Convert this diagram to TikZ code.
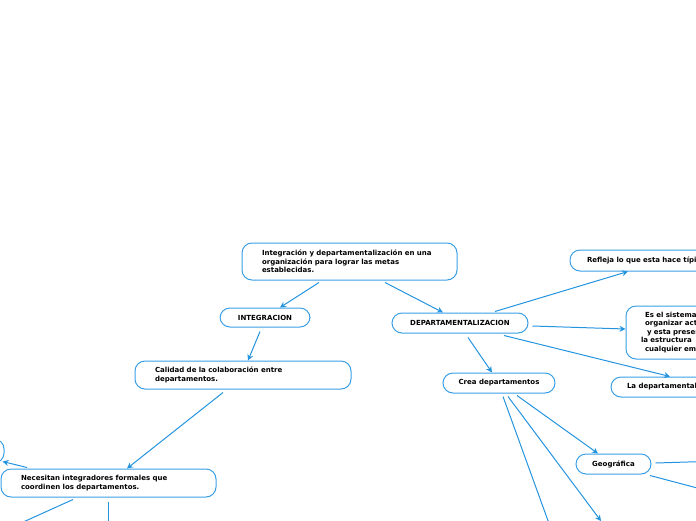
\documentclass[tikz,border=0pt]{standalone}
\usepackage{fontspec}
\usepackage{tikz}
\usetikzlibrary{arrows.meta,positioning,calc}
\usepackage{xcolor}
\newfontfamily\mapfont{DejaVu Sans}
\definecolor{Boxcolor}{HTML}{3A9FE6}
\definecolor{Linkcolor}{HTML}{2494DE}

\begin{document}
\begin{tikzpicture}[
  x=1pt, y=-1pt,
  topic/.style={draw=Boxcolor, fill=white, line width=1pt, rounded corners=10pt, font=\mapfont\bfseries\fontsize{7}{8.5}\selectfont, inner ysep=0pt},
  textbox/.style={topic, align=left, inner xsep=20pt},
  centerbox/.style={topic, inner xsep=0pt, minimum height=20pt},
  arr/.style={-{Stealth[length=6pt,width=6pt]}, draw=Linkcolor, line width=1pt},
  link/.style={draw=Linkcolor, line width=1pt},
]
  \useasboundingbox (0,0) rectangle (696,520);
  \clip (0,0) rectangle (696,520);

  % Nodes
  \node[textbox, text width=175pt, minimum height=37pt] (root) at (349.5,261.5) {Integración y departamentalización en una\\organización para lograr las metas\\establecidas.};
  \node[centerbox, minimum width=90pt, minimum height=19pt] (integ) at (265,317.5) {INTEGRACION};
  \node[centerbox, minimum width=136pt] (dept) at (460,323) {DEPARTAMENTALIZACION};
  \node[textbox, text width=176pt, minimum height=28pt] (calidad) at (243,375) {Calidad de la colaboración entre\\departamentos.};
  \node[textbox, text width=175pt, minimum height=28pt] (integra) at (108.5,483) {Necesitan integradores formales que\\coordinen los departamentos.};
  \node[centerbox, minimum width=150pt, minimum height=24pt] (side) at (-71,451) {};
  \node[centerbox, minimum width=112pt] (crea) at (499,383) {Crea departamentos};
  \node[centerbox, minimum width=75pt] (geo) at (613.5,464) {Geográfica};
  \node[textbox, inner xsep=17pt, text width=166pt, minimum height=21pt] (refleja) at (670,260.5) {Refleja lo que esta hace típi};
  \node[textbox, inner xsep=19pt, text width=120pt, minimum height=53pt] (sistema) at (705,332.5) {Es el sistema\\organizar act\\\hspace*{2pt}y esta presen\\\hspace*{-4pt}la estructura\\cualquier em};
  \node[textbox, inner xsep=16pt, text width=168pt, minimum height=20pt] (ladept) at (711,387) {La departamental};

  % Free ends outside the frame
  \coordinate (offA) at (-10,537);
  \coordinate (offB) at (108,560);
  \coordinate (offC) at (555,540);
  \coordinate (offD) at (601,521);
  \coordinate (offE) at (720,461);
  \coordinate (offF) at (720,494);

  % Edges
  \draw[arr] ([xshift=-30.5pt,yshift=-2pt]root.south) -- ([xshift=15pt]integ.north);
  \draw[arr] ([xshift=35.5pt,yshift=-2pt]root.south) -- ([xshift=-17pt]dept.north);
  \draw[arr] ([xshift=-5pt,yshift=-4pt]integ.south) -- ([xshift=5pt]calidad.north);
  \draw[arr] ([xshift=-20pt,yshift=-3pt]calidad.south) -- ([xshift=18.5pt]integra.north);
  \draw[arr] ([xshift=-81.5pt,yshift=1pt]integra.north) -- ([xshift=-2pt,yshift=2pt]side.south east);
  \draw[link] ([xshift=-35.5pt,yshift=-2pt]integra.south) -- (offA);
  \draw[link] ([xshift=-0.5pt,yshift=-4pt]integra.south) -- (offB);
  \draw[arr] ([xshift=8pt,yshift=-4pt]dept.south) -- ([xshift=-7pt]crea.north);
  \draw[arr] ([xshift=35pt,yshift=1pt]dept.north) -- ([xshift=-42pt]refleja.south);
  \draw[arr] ([xshift=4pt,yshift=-3pt]dept.east) -- ([yshift=3.5pt]sistema.west);
  \draw[arr] ([xshift=44pt,yshift=-2pt]dept.south) -- ([xshift=-41pt]ladept.north);
  \draw[arr] ([xshift=18pt,yshift=-2pt]crea.south) -- ([xshift=-15.5pt]geo.north);
  \draw[link] ([xshift=4pt,yshift=-3pt]crea.south) -- (offC);
  \draw[arr] ([xshift=9pt,yshift=-3pt]crea.south) -- (offD);
  \draw[link] ([xshift=4pt,yshift=1pt]geo.east) -- (offE);
  \draw[link] ([xshift=36.5pt,yshift=-1pt]geo.south) -- (offF);
\end{tikzpicture}
\end{document}
